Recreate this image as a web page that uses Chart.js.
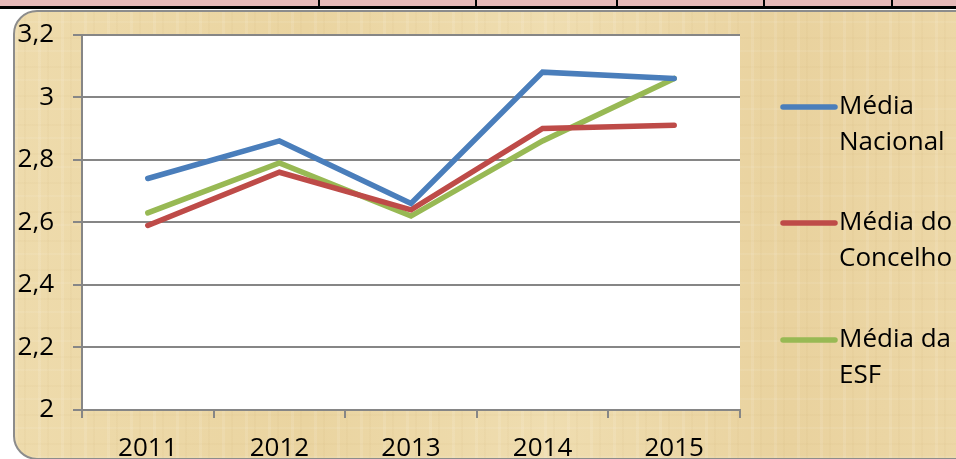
<!DOCTYPE html>
<html><head><meta charset="utf-8">
<script src="https://cdn.jsdelivr.net/npm/chart.js@4/dist/chart.umd.min.js"></script>
<style>
html,body{margin:0;padding:0;width:956px;height:459px;overflow:hidden;background:#fff;}
#band{position:absolute;left:0;top:0;width:956px;height:6px;background:#E6B9B8;}
#bline{position:absolute;left:0;top:6px;width:956px;height:3px;background:#000;}
.sep{position:absolute;top:0;width:2px;height:7px;background:#000;}
#frame{position:absolute;left:13px;top:10px;width:970px;height:446px;border:2px solid #8c8c8c;border-radius:24px;
background-color:#EDD9A9;
background-image:
 repeating-linear-gradient(90deg, rgba(255,255,255,0.10) 0px, rgba(255,255,255,0.10) 3px, rgba(0,0,0,0) 3px, rgba(0,0,0,0) 9px, rgba(170,130,60,0.04) 9px, rgba(170,130,60,0.04) 11px, rgba(0,0,0,0) 11px, rgba(0,0,0,0) 23px),
 repeating-linear-gradient(0deg, rgba(255,255,255,0.07) 0px, rgba(255,255,255,0.07) 2px, rgba(0,0,0,0) 2px, rgba(0,0,0,0) 13px, rgba(160,120,50,0.03) 13px, rgba(160,120,50,0.03) 15px, rgba(0,0,0,0) 15px, rgba(0,0,0,0) 29px),
 linear-gradient(90deg, #EEDBAC 0%, #EAD4A0 30%, #EFDDB0 55%, #E9D29E 80%, #EDD8A8 100%);}
#wrap{position:absolute;left:0;top:0;width:956px;height:459px;}
</style></head>
<body>
<div id="band"></div><div id="bline"></div>
<div class="sep" style="left:318px"></div><div class="sep" style="left:475px"></div><div class="sep" style="left:616px"></div><div class="sep" style="left:763px"></div><div class="sep" style="left:891px"></div>
<div id="frame"></div>
<div id="wrap"><canvas id="c" width="956" height="459"></canvas></div>
<script>
const categories = ["2011","2012","2013","2014","2015"];
const seriesNames = ["Média Nacional","Média do Concelho","Média da ESF"];
const mediaNacional = [2.74, 2.86, 2.66, 3.08, 3.06];
const mediaConcelho = [2.59, 2.76, 2.64, 2.90, 2.91];
const mediaESF = [2.63, 2.79, 2.62, 2.86, 3.06];
const yTicks = [2, 2.2, 2.4, 2.6, 2.8, 3, 3.2];
const colors = ["#4A7EBB", "#BE4B48", "#98B954"];

const FONT = "'Open Sans', sans-serif";

const plotBg = {
  id:'plotBg',
  beforeDraw(chart){
    const {ctx, chartArea:a} = chart;
    ctx.save(); ctx.fillStyle='#ffffff';
    ctx.fillRect(a.left, a.top, a.right-a.left, a.bottom-a.top);
    ctx.restore();
  }
};
const legendPlugin = {
  id:'customLegend',
  afterDraw(chart){
    const ctx = chart.ctx;
    ctx.save();
    ctx.font = "26px " + FONT;
    ctx.textBaseline = 'middle';
    ctx.fillStyle = '#000';
    const startYs = [107, 223, 340];
    chart.data.datasets.forEach((ds, i) => {
      const y0 = startYs[i];
      ctx.strokeStyle = ds.borderColor; ctx.lineWidth = 5.5; ctx.lineCap='round';
      ctx.beginPath(); ctx.moveTo(783, y0); ctx.lineTo(835, y0); ctx.stroke();
      const words = ds.label.split(' ');
      const lines = []; let cur = '';
      words.forEach(w => {
        const t = cur ? cur + ' ' + w : w;
        if (ctx.measureText(t).width > 118 && cur) { lines.push(cur); cur = w; } else cur = t;
      });
      lines.push(cur);
      lines.forEach((ln, k) => { ctx.fillText(ln, 839, y0 + k*36); });
    });
    ctx.restore();
  }
};

new Chart(document.getElementById('c'), {
  type:'line',
  data:{
    labels: categories,
    datasets:[
      {label: seriesNames[0], data: mediaNacional, borderColor: colors[0]},
      {label: seriesNames[1], data: mediaConcelho, borderColor: colors[1]},
      {label: seriesNames[2], data: mediaESF, borderColor: colors[2]}
    ].map(d => Object.assign(d, {borderWidth:5.5, pointRadius:0, tension:0, fill:false, borderCapStyle:'round', borderJoinStyle:'miter'}))
  },
  options:{
    responsive:false, animation:false,
    layout:{padding:{left:0, top:32, right:216, bottom:0}},
    plugins:{legend:{display:false}, tooltip:{enabled:false}},
    scales:{
      x:{
        offset:true,
        grid:{offset:true, drawOnChartArea:false, color:'#868686', lineWidth:2, tickLength:8, tickColor:'#868686'},
        border:{color:'#868686', width:2},
        ticks:{color:'#000', font:{family:FONT, size:26}, padding:15, maxRotation:0},
        afterFit(s){ s.height = 49; }
      },
      y:{
        min: yTicks[0], max: yTicks[yTicks.length-1],
        afterBuildTicks(s){ s.ticks = yTicks.map(v => ({value:v})); },
        grid:{color:'#868686', lineWidth:2, tickLength:9},
        border:{color:'#868686', width:2},
        ticks:{color:'#000', font:{family:FONT, size:26}, padding:19,
          callback:(v) => String(Math.round(v*10)/10).replace('.', ',')},
        afterFit(s){ s.width = 82; }
      }
    }
  },
  plugins:[plotBg, legendPlugin]
});
</script>
</body></html>
